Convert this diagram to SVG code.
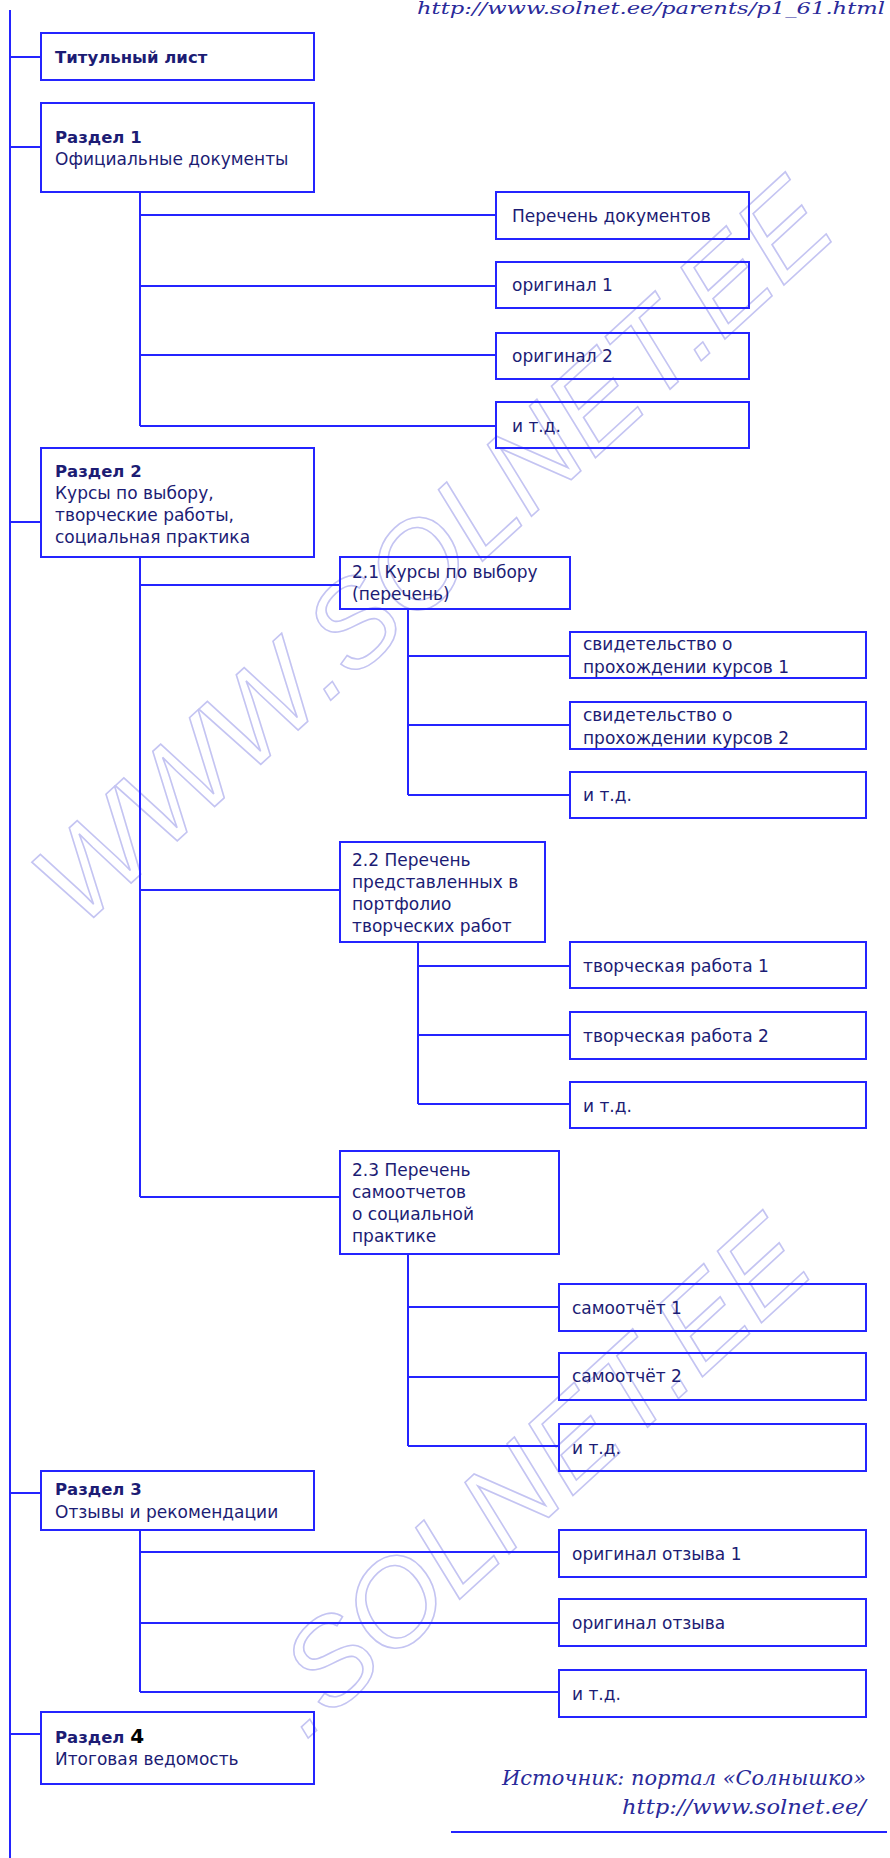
<svg xmlns="http://www.w3.org/2000/svg" width="890" height="1858" viewBox="0 0 890 1858">
<style>
.box{fill:none;stroke:#2424ff;stroke-width:2}
.ln{fill:none;stroke:#2424ff;stroke-width:2}
.t{font-family:"DejaVu Sans","Noto Sans",sans-serif;font-size:17px;fill:#1c1c74}
.b{font-weight:bold;font-size:16.5px}
.s{font-family:"DejaVu Serif","Liberation Serif",serif;font-style:italic;fill:#2a2a9a}
.wm{font-family:"Liberation Sans",Arial,sans-serif;font-style:italic;font-size:120px;fill:none;stroke:#c4c4f2;stroke-width:1.6}
</style>
<rect width="890" height="1858" fill="#fff"/>
<g id="watermark">
<text class="wm" transform="translate(80,930) rotate(-42.5)" x="0" y="0">WWW.SOLNET.EE</text>
<text class="wm" transform="translate(54,1971) rotate(-42.5)" x="340" y="0">.SOLNET.EE</text>
</g>
<g id="connectors">
<path class="ln" d="M10 10V1858"/>
<path class="ln" d="M10 57H41M10 147H41M10 522H41M10 1493H41M10 1734H41"/>
<path class="ln" d="M140 192V426M140 215H496M140 286H496M140 355H496M140 426H496"/>
<path class="ln" d="M140 557V1197M140 585H340M140 890H340M140 1197H340"/>
<path class="ln" d="M408 609V795M408 656H570M408 725H570M408 795H570"/>
<path class="ln" d="M418 942V1104M418 966H570M418 1035H570M418 1104H570"/>
<path class="ln" d="M408 1254V1446M408 1307H559M408 1377H559M408 1446H559"/>
<path class="ln" d="M140 1530V1692M140 1552H559M140 1623H559M140 1692H559"/>
<path class="ln" d="M451 1832H887"/>
</g>
<g id="title"><rect class="box" x="41" y="33" width="273" height="47"/><text class="t b" x="55" y="63">Титульный лист</text></g>
<g id="r1"><rect class="box" x="41" y="103" width="273" height="89"/><text class="t b" x="55" y="143">Раздел 1</text><text class="t" x="55" y="165">Официальные документы</text></g>
<g id="r1a"><rect class="box" x="496" y="192" width="253" height="47"/><text class="t" x="512" y="222">Перечень документов</text></g>
<g id="r1b"><rect class="box" x="496" y="262" width="253" height="46"/><text class="t" x="512" y="291">оригинал 1</text></g>
<g id="r1c"><rect class="box" x="496" y="333" width="253" height="46"/><text class="t" x="512" y="362">оригинал 2</text></g>
<g id="r1d"><rect class="box" x="496" y="402" width="253" height="46"/><text class="t" x="512" y="432">и т.д.</text></g>
<g id="r2"><rect class="box" x="41" y="448" width="273" height="109"/><text class="t b" x="55" y="477">Раздел 2</text><text class="t" x="55" y="499">Курсы по выбору,</text><text class="t" x="55" y="521">творческие работы,</text><text class="t" x="55" y="543">социальная практика</text></g>
<g id="r21"><rect class="box" x="340" y="557" width="230" height="52"/><text class="t" x="352" y="578">2.1 Курсы по выбору</text><text class="t" x="352" y="600">(перечень)</text></g>
<g id="r21a"><rect class="box" x="570" y="632" width="296" height="46"/><text class="t" x="583" y="650">свидетельство о</text><text class="t" x="583" y="673">прохождении курсов 1</text></g>
<g id="r21b"><rect class="box" x="570" y="702" width="296" height="47"/><text class="t" x="583" y="721">свидетельство о</text><text class="t" x="583" y="744">прохождении курсов 2</text></g>
<g id="r21c"><rect class="box" x="570" y="772" width="296" height="46"/><text class="t" x="583" y="801">и т.д.</text></g>
<g id="r22"><rect class="box" x="340" y="842" width="205" height="100"/><text class="t" x="352" y="866">2.2 Перечень</text><text class="t" x="352" y="888">представленных в</text><text class="t" x="352" y="910">портфолио</text><text class="t" x="352" y="932">творческих работ</text></g>
<g id="r22a"><rect class="box" x="570" y="942" width="296" height="46"/><text class="t" x="583" y="972">творческая работа 1</text></g>
<g id="r22b"><rect class="box" x="570" y="1012" width="296" height="47"/><text class="t" x="583" y="1042">творческая работа 2</text></g>
<g id="r22c"><rect class="box" x="570" y="1082" width="296" height="46"/><text class="t" x="583" y="1112">и т.д.</text></g>
<g id="r23"><rect class="box" x="340" y="1151" width="219" height="103"/><text class="t" x="352" y="1176">2.3 Перечень</text><text class="t" x="352" y="1198">самоотчетов</text><text class="t" x="352" y="1220">о социальной</text><text class="t" x="352" y="1242">практике</text></g>
<g id="r23a"><rect class="box" x="559" y="1284" width="307" height="47"/><text class="t" x="572" y="1314">самоотчёт 1</text></g>
<g id="r23b"><rect class="box" x="559" y="1353" width="307" height="47"/><text class="t" x="572" y="1382">самоотчёт 2</text></g>
<g id="r23c"><rect class="box" x="559" y="1424" width="307" height="47"/><text class="t" x="572" y="1454">и т.д.</text></g>
<g id="r3"><rect class="box" x="41" y="1471" width="273" height="59"/><text class="t b" x="55" y="1495">Раздел 3</text><text class="t" x="55" y="1518">Отзывы и рекомендации</text></g>
<g id="r3a"><rect class="box" x="559" y="1530" width="307" height="47"/><text class="t" x="572" y="1560">оригинал отзыва 1</text></g>
<g id="r3b"><rect class="box" x="559" y="1599" width="307" height="47"/><text class="t" x="572" y="1629">оригинал отзыва</text></g>
<g id="r3c"><rect class="box" x="559" y="1670" width="307" height="47"/><text class="t" x="572" y="1700">и т.д.</text></g>
<g id="r4"><rect class="box" x="41" y="1712" width="273" height="72"/><text class="t b" x="55" y="1743">Раздел <tspan style="font-size:20px;fill:#000">4</tspan></text><text class="t" x="55" y="1765">Итоговая ведомость</text></g>
<g id="credits">
<text class="s" x="885" y="14" font-size="17" text-anchor="end" textLength="468" lengthAdjust="spacingAndGlyphs">http://www.solnet.ee/parents/p1_61.html</text>
<text class="s" x="866" y="1785" font-size="21" text-anchor="end" textLength="364" lengthAdjust="spacingAndGlyphs">Источник: портал «Солнышко»</text>
<text class="s" x="866" y="1814" font-size="21" text-anchor="end" textLength="244" lengthAdjust="spacingAndGlyphs">http://www.solnet.ee/</text>
</g>
</svg>
